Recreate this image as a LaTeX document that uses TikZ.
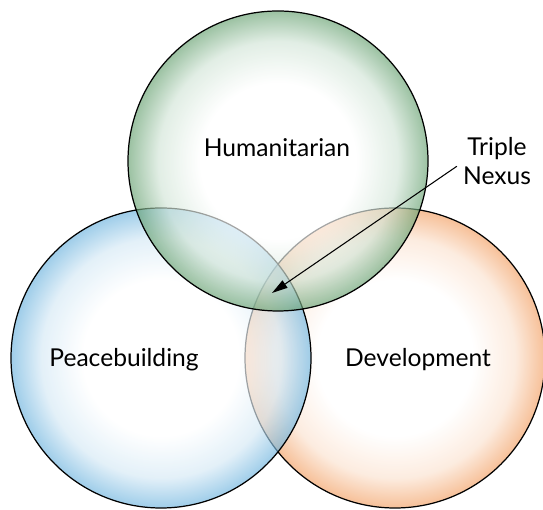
\documentclass[tikz,border=0pt]{standalone}
\usepackage{fontspec}
\setmainfont{Lato}
\usetikzlibrary{arrows.meta}
% edge colours as rgb fractions, rim reached at 25bp
\pgfdeclareradialshading{greenglow}{\pgfpoint{0bp}{0bp}}{rgb(0bp)=(1,1,1); rgb(13bp)=(1,1,1); rgb(20bp)=(0.82,0.895,0.84); rgb(25bp)=(0.40,0.63,0.44); rgb(50bp)=(0.40,0.63,0.44)}
\pgfdeclareradialshading{blueglow}{\pgfpoint{0bp}{0bp}}{rgb(0bp)=(1,1,1); rgb(13bp)=(1,1,1); rgb(20bp)=(0.83,0.91,0.96); rgb(25bp)=(0.42,0.70,0.87); rgb(50bp)=(0.42,0.70,0.87)}
\pgfdeclareradialshading{orangeglow}{\pgfpoint{0bp}{0bp}}{rgb(0bp)=(1,1,1); rgb(13bp)=(1,1,1); rgb(20bp)=(0.985,0.885,0.81); rgb(25bp)=(0.95,0.62,0.38); rgb(50bp)=(0.95,0.62,0.38)}
\tikzset{
  sector/.style={draw, circle, minimum size=6cm, inner sep=0pt, shade, fill opacity=0.65, line width=0.7pt},
  tag/.style={align=center, font=\fontsize{14}{16.5}\selectfont}
}
\begin{document}
\begin{tikzpicture}
\useasboundingbox (0,0) rectangle (10.86,10.2);
\node[sector, shading=orangeglow] (3) at (7.90,3.04) {};
\node[sector, shading=blueglow] (2) at (3.22,3.04) {};
\node[sector, shading=greenglow] (1) at (5.56,6.98) {};
\node[tag] (4) at (5.54,7.24) {Humanitarian};
\node[tag] (5) at (2.48,3.00) {Peacebuilding};
\node[tag] (6) at (8.36,3.00) {Development};
\node[tag] (7) at (9.94,6.98) {Triple\\Nexus};
\coordinate (8) at (5.44,4.34);
\path[draw,line width=0.6pt,-{Triangle[length=9pt,width=5pt]}] ([yshift=-3pt]7.west) -- (8);
\end{tikzpicture}
\end{document}
